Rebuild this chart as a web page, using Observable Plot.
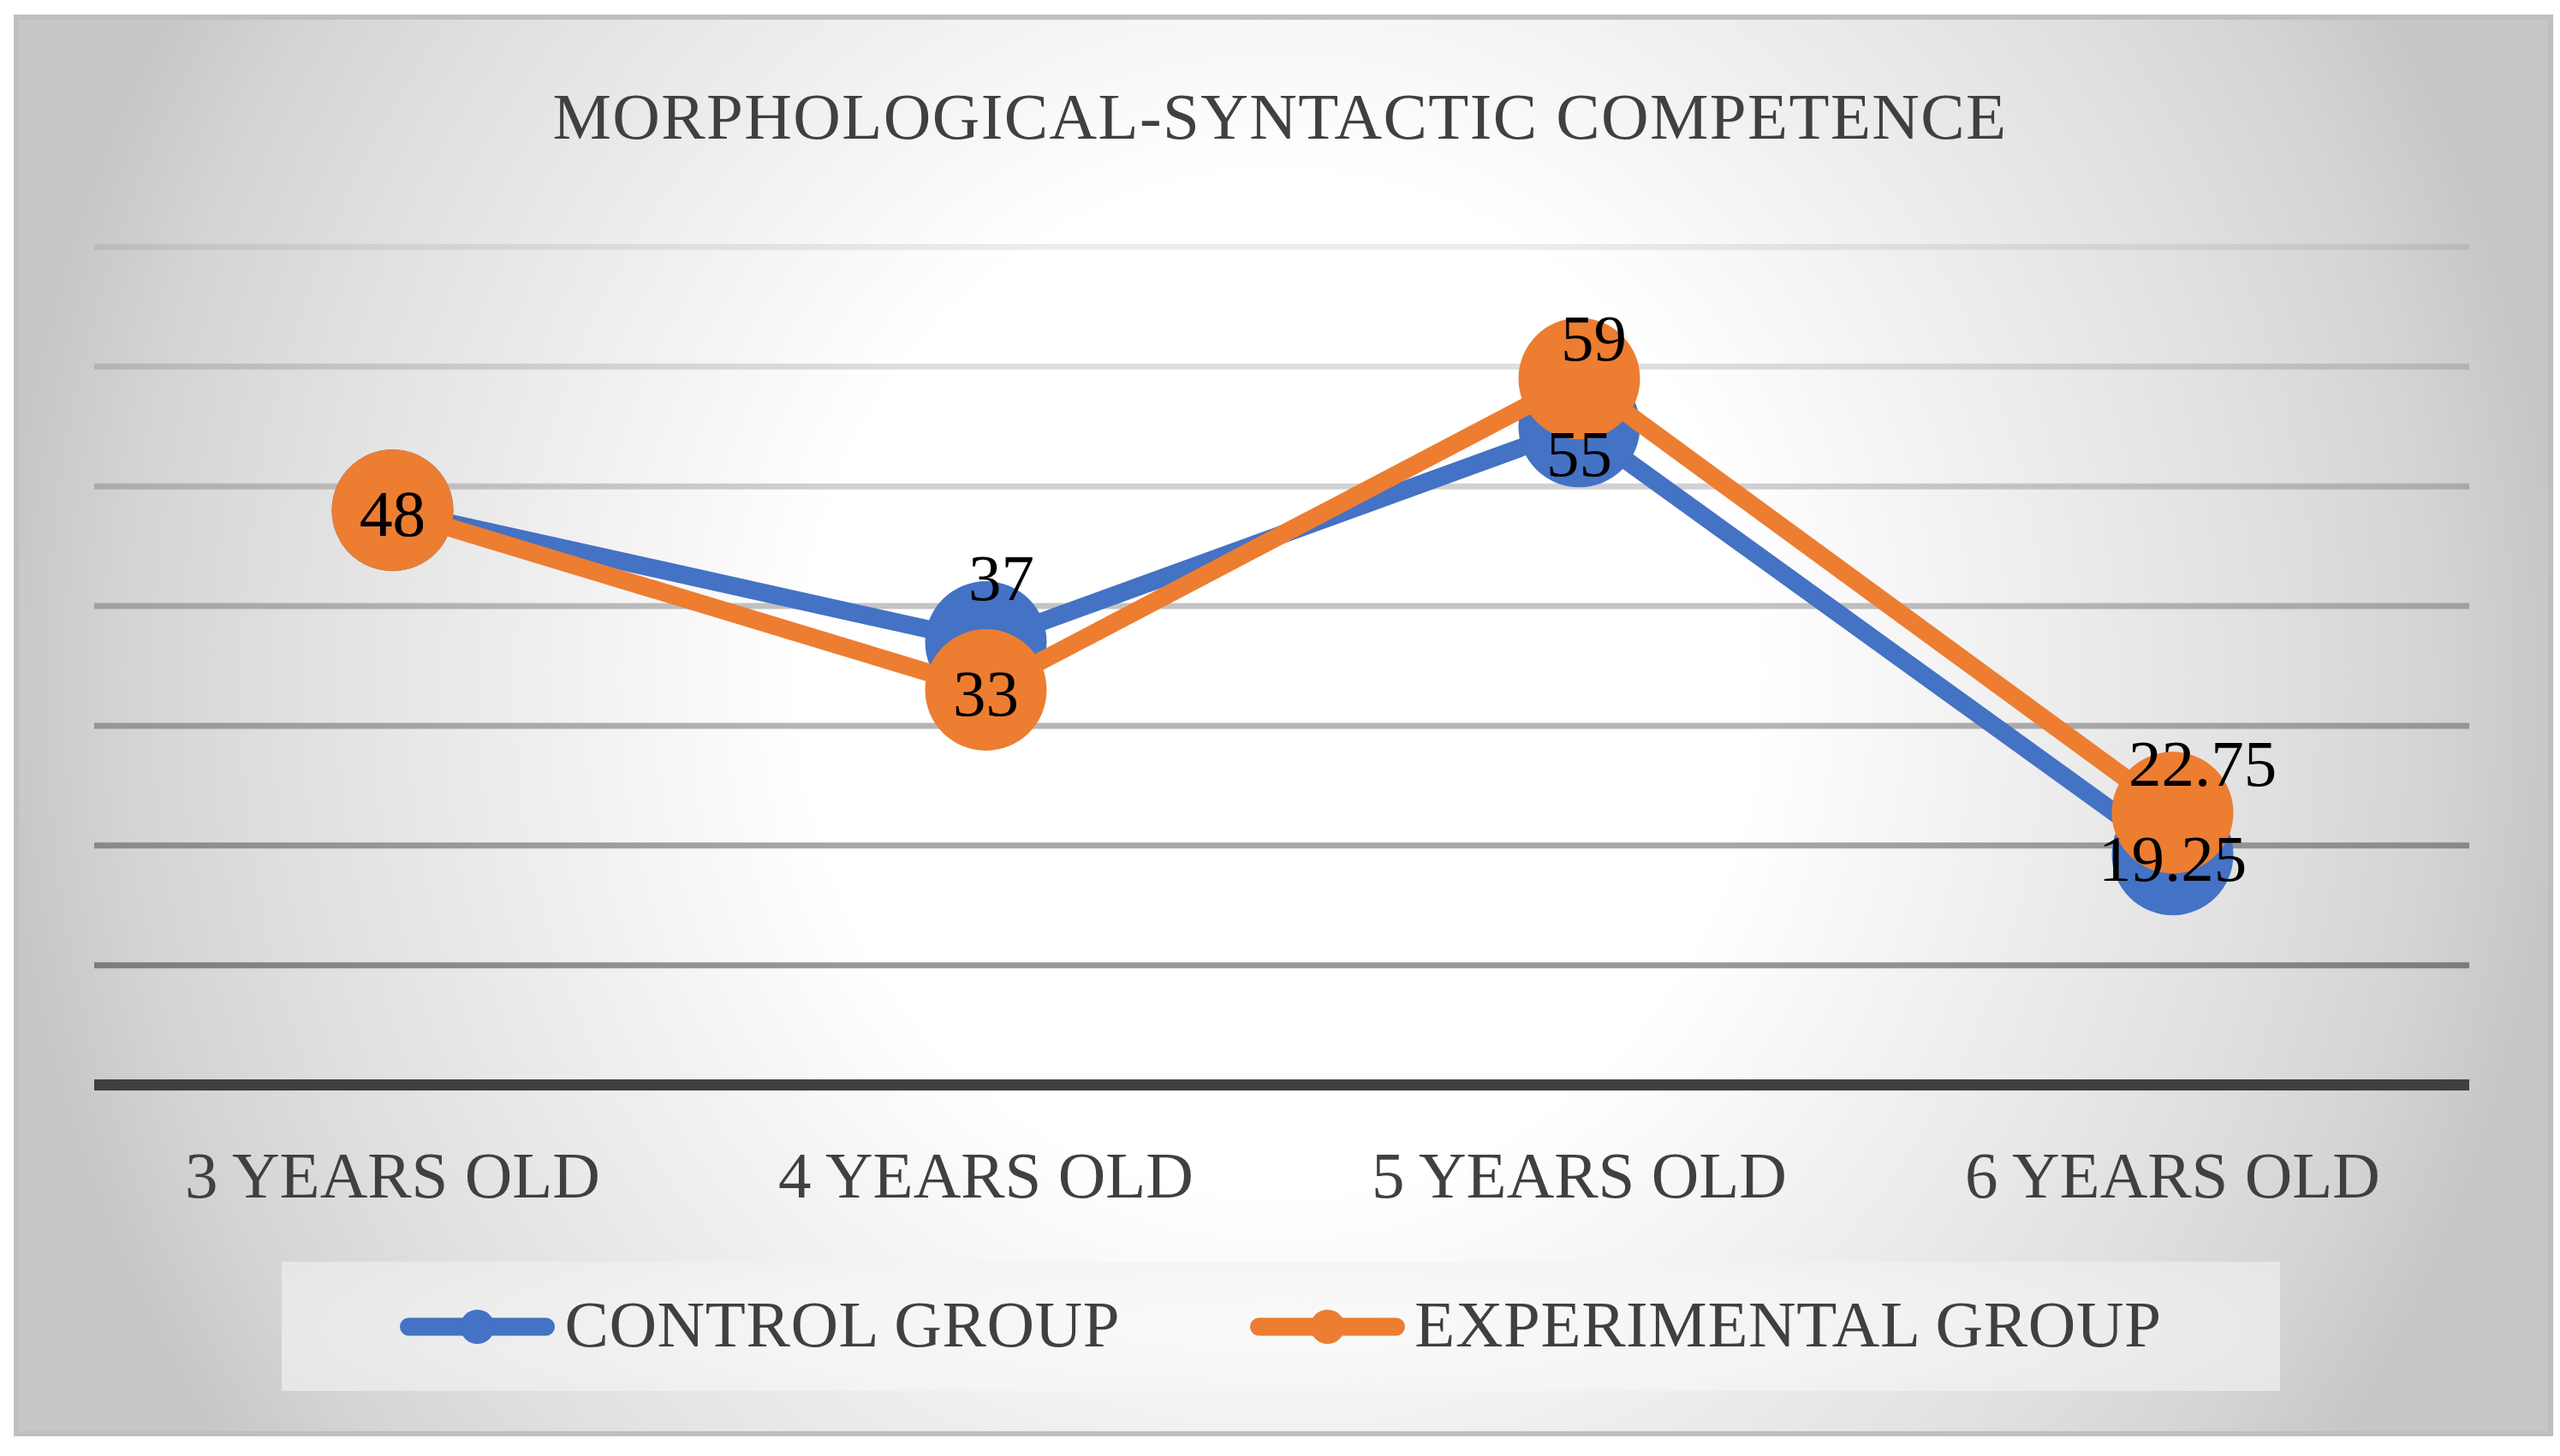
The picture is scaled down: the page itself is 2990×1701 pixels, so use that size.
<!DOCTYPE html>
<html>
<head>
<meta charset="utf-8">
<script src="https://cdn.jsdelivr.net/npm/d3@7"></script>
<script src="https://cdn.jsdelivr.net/npm/@observablehq/plot@0.6"></script>
<style>
html, body { margin: 0; padding: 0; background: #fff; overflow: hidden; }
#chart { position: relative; width: 2990px; height: 1701px; font-family: "Liberation Serif", "Times New Roman", serif; }
#frame {
  position: absolute; left: 16px; top: 17px; width: 2966px; height: 1661px;
  box-sizing: border-box; border: 6px solid #bfbfbf;
  background: radial-gradient(ellipse 1500px 1600px at 1473px 777px, #ffffff 0%, #ffffff 37%, #e0e0e0 77%, #d4d4d4 90%, #c6c6c6 100%);
}
#title {
  position: absolute; left: 0; top: 98px; width: 2990px; text-align: center;
  font-size: 77px; line-height: 77px; color: #404040; white-space: nowrap; letter-spacing: 1.4px;
}
#plot { position: absolute; left: 0; top: 0; }
#legend {
  position: absolute; left: 329px; top: 1474px; width: 2334px; height: 151px;
  background: radial-gradient(ellipse 60% 140% at 50% 50%, #fafafa 0%, #f4f4f4 45%, #e3e3e3 100%);
  display: flex; align-items: center; justify-content: center;
}
.item { display: flex; align-items: center; }
.item + .item { margin-left: 152px; }
.item svg { margin-right: 11px; }
.item span { font-size: 77px; line-height: 77px; color: #404040; white-space: nowrap; position: relative; top: -2px; letter-spacing: 0.6px; }
</style>
</head>
<body>
<div id="chart">
  <div id="frame"></div>
  <div id="title">MORPHOLOGICAL-SYNTACTIC COMPETENCE</div>
  <div id="plot"></div>
  <div id="legend"></div>
</div>
<script>
const categories = ["3 YEARS OLD", "4 YEARS OLD", "5 YEARS OLD", "6 YEARS OLD"];
const controlGroup = [48, 37, 55, 19.25];
const experimentalGroup = [48, 33, 59, 22.75];
const seriesNames = ["CONTROL GROUP", "EXPERIMENTAL GROUP"];
const seriesColors = ["#4472C4", "#ED7D31"];
const gridTicks = [10, 20, 30, 40, 50, 60, 70];

const rows = [];
[controlGroup, experimentalGroup].forEach((vals, s) => {
  vals.forEach((v, i) => rows.push({category: categories[i], series: seriesNames[s], value: v, index: i}));
});

// label placement (offsets in px relative to the point), as laid out in the original chart
const labelLayout = {
  "CONTROL GROUP": [[0, 5], [18, -74], [0, 33], [0, 6]],
  "EXPERIMENTAL GROUP": [[0, 5], [0, 5], [17, -46], [35, -56]]
};

const FONT = "Liberation Serif";

const seriesMarks = seriesNames.flatMap(name => {
  const data = rows.filter(d => d.series === name);
  return [
    Plot.line(data, {x: "category", y: "value", stroke: "series", strokeWidth: 21, strokeLinejoin: "round", strokeLinecap: "round"}),
    Plot.dot(data, {x: "category", y: "value", fill: "series", r: 71})
  ];
});

const labelMarks = rows.map(d => {
  const [dx, dy] = labelLayout[d.series][d.index];
  return Plot.text([d], {
    x: "category", y: "value", text: r => String(r.value),
    dx, dy, fill: "#000", fontSize: 77, fontFamily: FONT, textAnchor: "middle", lineAnchor: "middle"
  });
});

const plot = Plot.plot({
  width: 2990,
  height: 1440,
  marginLeft: 110,
  marginRight: 106,
  marginTop: 288,
  marginBottom: 173,
  x: {type: "point", domain: categories, padding: 0.5},
  y: {domain: [0, 70], axis: null},
  color: {domain: seriesNames, range: seriesColors},
  style: {background: "transparent", fontFamily: FONT, fontSize: "77px", color: "#404040", overflow: "visible"},
  marks: [
    Plot.ruleY(gridTicks, {y: d => d, stroke: "#000", strokeOpacity: d => 0.07 + (70 - d) / 60 * 0.33, strokeWidth: 7}),
    Plot.ruleY([0], {stroke: "#404040", strokeWidth: 13}),
    Plot.axisX({tickSize: 0, tickPadding: 77, fontSize: 77, fontFamily: FONT, fill: "#404040", label: null}),
    ...seriesMarks,
    ...labelMarks
  ]
});
document.getElementById("plot").appendChild(plot);

// legend
const color = plot.scale("color");
const legend = document.getElementById("legend");
seriesNames.forEach(name => {
  const c = color.range[color.domain.indexOf(name)];
  const item = document.createElement("div");
  item.className = "item";
  item.innerHTML =
    `<svg width="181" height="44" viewBox="0 0 181 44">` +
    `<line x1="10.5" y1="22" x2="170.5" y2="22" stroke="${c}" stroke-width="21" stroke-linecap="round"/>` +
    `<circle cx="90.5" cy="22" r="20" fill="${c}"/></svg>` +
    `<span>${name}</span>`;
  legend.appendChild(item);
});
</script>
</body>
</html>
